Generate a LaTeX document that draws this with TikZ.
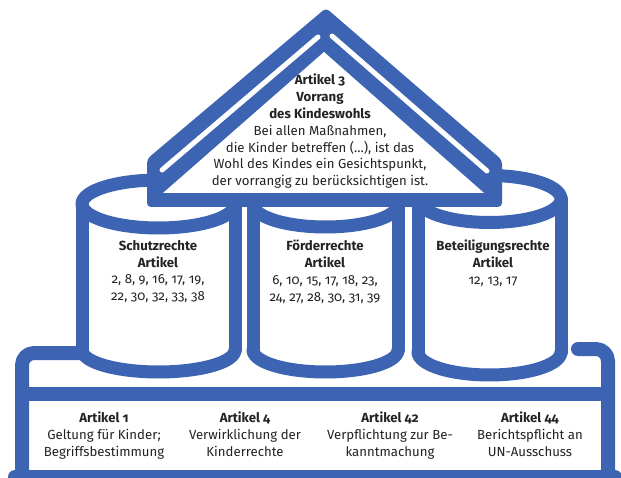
\documentclass[tikz,border=0pt]{standalone}
\usepackage{fontspec}
\setmainfont{Fira Sans}[Numbers=OldStyle]
\definecolor{rblue}{RGB}{60,100,178}
\definecolor{rtext}{RGB}{35,35,35}
\tikzset{
  bluestroke/.style={draw=rblue, line width=13pt, line cap=round, line join=round},
  platstroke/.style={draw=rblue, line width=14pt, line cap=round, line join=round},
  txt/.style={text=rtext, align=center, inner sep=0pt, anchor=north, font=\fontsize{13.2}{16.8}\selectfont},
}
\newcommand\drawcyl[6]{%
  \fill[white] (#1-#2,#3) -- (#1-#2,#4)
    -- plot[domain=180:0,samples=50] ({#1+#2*cos(\x)},{#4+#6*sin(\x)})
    -- (#1+#2,#3)
    -- plot[domain=0:-180,samples=50] ({#1+#2*cos(\x)},{#3+#5*sin(\x)}) -- cycle;
  \draw[bluestroke] (#1-#2,#4) -- (#1-#2,#3);
  \draw[bluestroke] (#1+#2,#4) -- (#1+#2,#3);
  \draw[bluestroke] plot[domain=0:360,samples=90] ({#1+#2*cos(\x)},{#3+#5*sin(\x)}) -- cycle;
  \draw[bluestroke] plot[domain=0:180,samples=50] ({#1+#2*cos(\x)},{#4+#6*sin(\x)});
}
\begin{document}
\begin{tikzpicture}[x=1pt,y=-1pt]
\useasboundingbox[fill=white] (0,0) rectangle (621,478);
% platform
\begin{scope}
\clip (0,0) rectangle (621,478);
\draw[platstroke, rounded corners=12pt] (84,353) -- (22,353) -- (22,490);
\draw[platstroke, rounded corners=12pt] (578,349) -- (608,349) -- (608,490);
\draw[platstroke] (15,477) -- (615,477);
\draw[platstroke] (22,393.5) -- (608,393.5);
\end{scope}
% cylinders
\drawcyl{158.5}{76.5}{204}{350}{24}{22}
\drawcyl{325.5}{72.5}{204}{350}{23}{22}
\drawcyl{489.5}{71.5}{199}{352}{23.5}{23}
% roof
\fill[rblue, rounded corners=4pt] (147,207) -- (147,159) -- (326,8) -- (502,160) -- (502,207) -- cycle;
\draw[white, line width=5pt, line cap=round] (162,170) -- (318,37);
\draw[white, line width=5pt, line cap=round] (332,36) -- (487,171);
\fill[white] (163,193) -- (324,52) -- (484,193) -- cycle;
% texts
\node[txt] (art3) at (320,74) {\textbf{Artikel 3}\\\textbf{Vorrang}\\\textbf{des Kindeswohls}\\Bei allen Maßnahmen,\\die Kinder betreffen (…), ist das\\Wohl des Kindes ein Gesichtspunkt,\\der vorrangig zu berücksichtigen ist.};
\node[txt] (schutz) at (158,240) {\textbf{Schutzrechte}\\\textbf{Artikel}\\2, 8, 9, 16, 17, 19,\\22, 30, 32, 33, 38};
\node[txt] (foerder) at (325,240) {\textbf{Förderrechte}\\\textbf{Artikel}\\6, 10, 15, 17, 18, 23,\\24, 27, 28, 30, 31, 39};
\node[txt] (beteil) at (493,240) {\textbf{Beteiligungsrechte}\\\textbf{Artikel}\\12, 13, 17};
\node[txt] (a1) at (104,412) {\textbf{Artikel 1}\\Geltung für Kinder;\\Begriffsbestimmung};
\node[txt] (a4) at (245,412) {\textbf{Artikel 4}\\Verwirklichung der\\Kinderrechte};
\node[txt] (a42) at (390,412) {\textbf{Artikel 42}\\Verpflichtung zur Be-\\kanntmachung};
\node[txt] (a44) at (530,412) {\textbf{Artikel 44}\\Berichtspflicht an\\UN-Ausschuss};
\end{tikzpicture}
\end{document}
